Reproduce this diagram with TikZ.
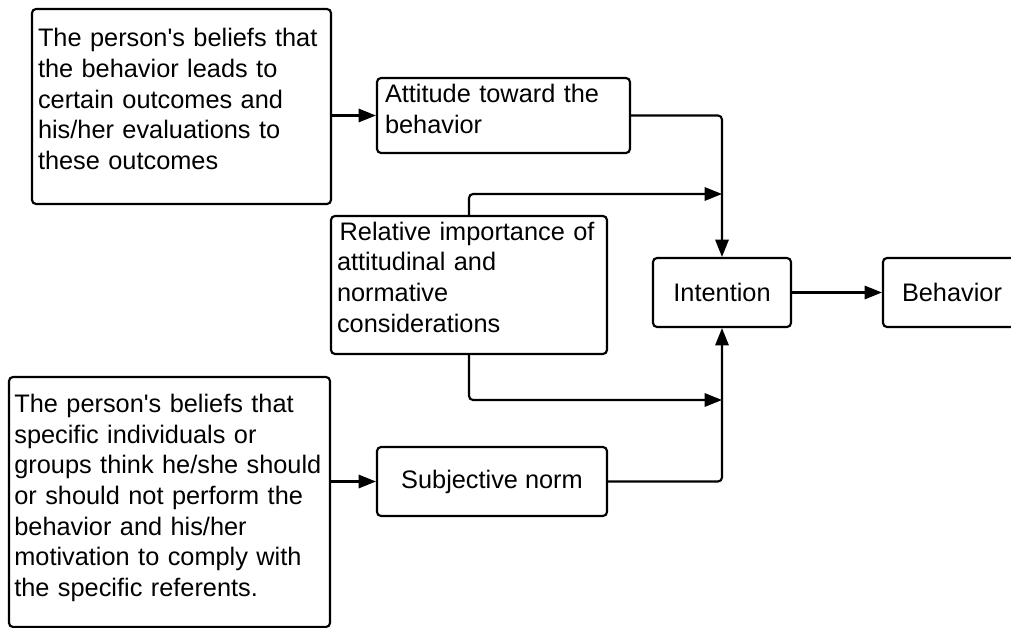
\documentclass[tikz,border=0pt]{standalone}
\usepackage{fontspec}
\setmainfont{Liberation Sans}
\usetikzlibrary{arrows.meta}

\newcommand{\ap}{\textquotesingle}
\newcommand{\bas}[1]{\rule[-#1]{0pt}{1pt}}

\begin{document}
\begin{tikzpicture}[x=0.75pt, y=-0.75pt,
    boite/.style={draw, line width=1.6pt, rounded corners=3pt, inner ysep=0pt, font=\fontsize{19}{23}\selectfont},
    texte/.style={boite, align=left},
    fleche/.style={line width=1.6pt, rounded corners=3pt, -{Triangle[length=13pt,width=10pt]}}]
    \clip (0,0) rectangle (1011,628);
    \fill[white] (0,0) rectangle (1011,628);
    % Boîtes
    \node[texte, inner xsep=4.5pt, text width=215.25pt, minimum height=146.25pt] at (181.5,106.5) (croyances)
      {The person\ap s beliefs that\\the behavior leads to\\certain outcomes and\\his/her evaluations to\\these outcomes\bas{11.5pt}};
    \node[texte, inner xsep=6pt, text width=177.75pt, minimum height=56.25pt] at (503.5,115.5) (attitude)
      {Attitude toward the\\behavior\bas{10.5pt}};
    \node[texte, inner xsep=4.5pt, text width=198pt, minimum height=103.5pt] at (469,285) (relative)
      {\hspace{2pt}Relative importance of\\attitudinal and\\normative\\considerations\bas{12pt}};
    \node[boite, minimum width=103.5pt, minimum height=51.75pt] at (722,292.5) (intention) {Intention};
    \node[boite, minimum width=103.5pt, minimum height=51.75pt] at (952,292.5) (comportement) {Behavior};
    \node[texte, inner xsep=4pt, text width=232.75pt, minimum height=187.5pt] at (169.5,502) (normes)
      {The person\ap s beliefs that\\specific individuals or\\groups think he/she should\\or should not perform the\\behavior and his/her\\motivation to comply with\\the specific referents.\bas{10pt}};
    \node[boite, minimum width=172.5pt, minimum height=51.75pt] at (492,481.5) (subjective) {Subjective norm};
    % Flèches
    \coordinate (haut) at (722,194);
    \coordinate (bas) at (722,400);
    \draw[fleche] (croyances.east |- attitude.west) -- (attitude.west);
    \draw[fleche] (attitude.east) -| (intention.north);
    \draw[fleche] (relative.north) |- (haut);
    \draw[fleche] (relative.south) |- (bas);
    \draw[fleche] (normes.east |- subjective.west) -- (subjective.west);
    \draw[fleche] (subjective.east) -| (intention.south);
    \draw[fleche] (intention) -- (comportement);
\end{tikzpicture}
\end{document}
